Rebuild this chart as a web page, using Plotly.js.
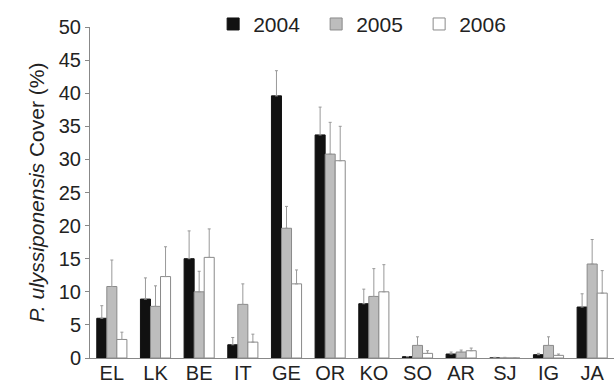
<!DOCTYPE html>
<html>
<head>
<meta charset="utf-8">
<script src="https://cdn.plot.ly/plotly-3.0.1.min.js"></script>
<style>html,body{margin:0;padding:0;background:#fff;}#chart{width:616px;height:386px;}</style>
</head>
<body>
<div id="chart"></div>
<script>
const sites = ["EL","LK","BE","IT","GE","OR","KO","SO","AR","SJ","IG","JA"];
const years = ["2004","2005","2006"];
const cover2004 = [6.0, 8.9, 15.0, 2.0, 39.6, 33.7, 8.2, 0.2, 0.6, 0, 0.5, 7.7];
const err2004   = [1.9, 3.2, 4.2, 1.1, 3.8, 4.2, 2.2, 0, 0.3, 0.1, 0.2, 2.0];
const cover2005 = [10.8, 7.8, 10.0, 8.1, 19.6, 30.8, 9.3, 1.9, 0.9, 0, 1.9, 14.2];
const err2005   = [4.0, 3.1, 3.1, 3.1, 3.3, 4.8, 4.2, 1.3, 0.3, 0.1, 1.3, 3.7];
const cover2006 = [2.8, 12.3, 15.2, 2.4, 11.2, 29.8, 10.0, 0.7, 1.1, 0, 0.4, 9.8];
const err2006   = [1.1, 4.5, 4.3, 1.2, 2.1, 5.2, 4.1, 0.4, 0.4, 0, 0.2, 3.4];
const yTicks = [0,5,10,15,20,25,30,35,40,45,50];

const fills = ["#111111", "#bdbdbd", "#ffffff"];
const lines = ["#111111", "#8a8a8a", "#8a8a8a"];
const vals = [cover2004, cover2005, cover2006];
const errs = [err2004, err2005, err2006];

const traces = years.map((y, i) => ({
  type: "bar",
  name: y,
  x: sites,
  y: vals[i],
  marker: {color: fills[i], line: {color: lines[i], width: 1}},
  error_y: {type: "data", symmetric: false, array: errs[i], arrayminus: vals[i].map(() => 0),
            color: "#999999", thickness: 1, width: 1.5}
}));

const layout = {
  width: 616, height: 386,
  margin: {l: 90, r: 2, t: 27, b: 28},
  paper_bgcolor: "#fff", plot_bgcolor: "#fff",
  barmode: "group", bargap: 0.31, bargroupgap: 0,
  font: {family: "Liberation Sans, Arial, sans-serif", color: "#222", size: 20},
  showlegend: true,
  legend: {orientation: "h", x: 0.235, xanchor: "left", y: 1.07, yanchor: "top",
           font: {size: 21, color: "#222"}, entrywidth: 58, entrywidthmode: "pixels",
           itemwidth: 30, tracegroupgap: 0, bgcolor: "rgba(0,0,0,0)"},
  xaxis: {type: "category", showline: true, linecolor: "#888", linewidth: 1,
          ticks: "", tickfont: {size: 20, color: "#222"}, showgrid: false, zeroline: false,
          ticklabelstandoff: -3,
          range: [-0.5, 11.5], automargin: false},
  yaxis: {range: [0, 50], tickvals: yTicks, ticks: "outside", ticklen: 4, tickcolor: "#888",
          showline: true, linecolor: "#888", linewidth: 1, showgrid: false, zeroline: false,
          tickfont: {size: 20, color: "#222"}, automargin: false,
          title: {text: "<i>P. ulyssiponensis</i> Cover (%)", font: {size: 21, color: "#222"}, standoff: 8}}
};

Plotly.newPlot("chart", traces, layout, {displayModeBar: false, staticPlot: true});
</script>
</body>
</html>
